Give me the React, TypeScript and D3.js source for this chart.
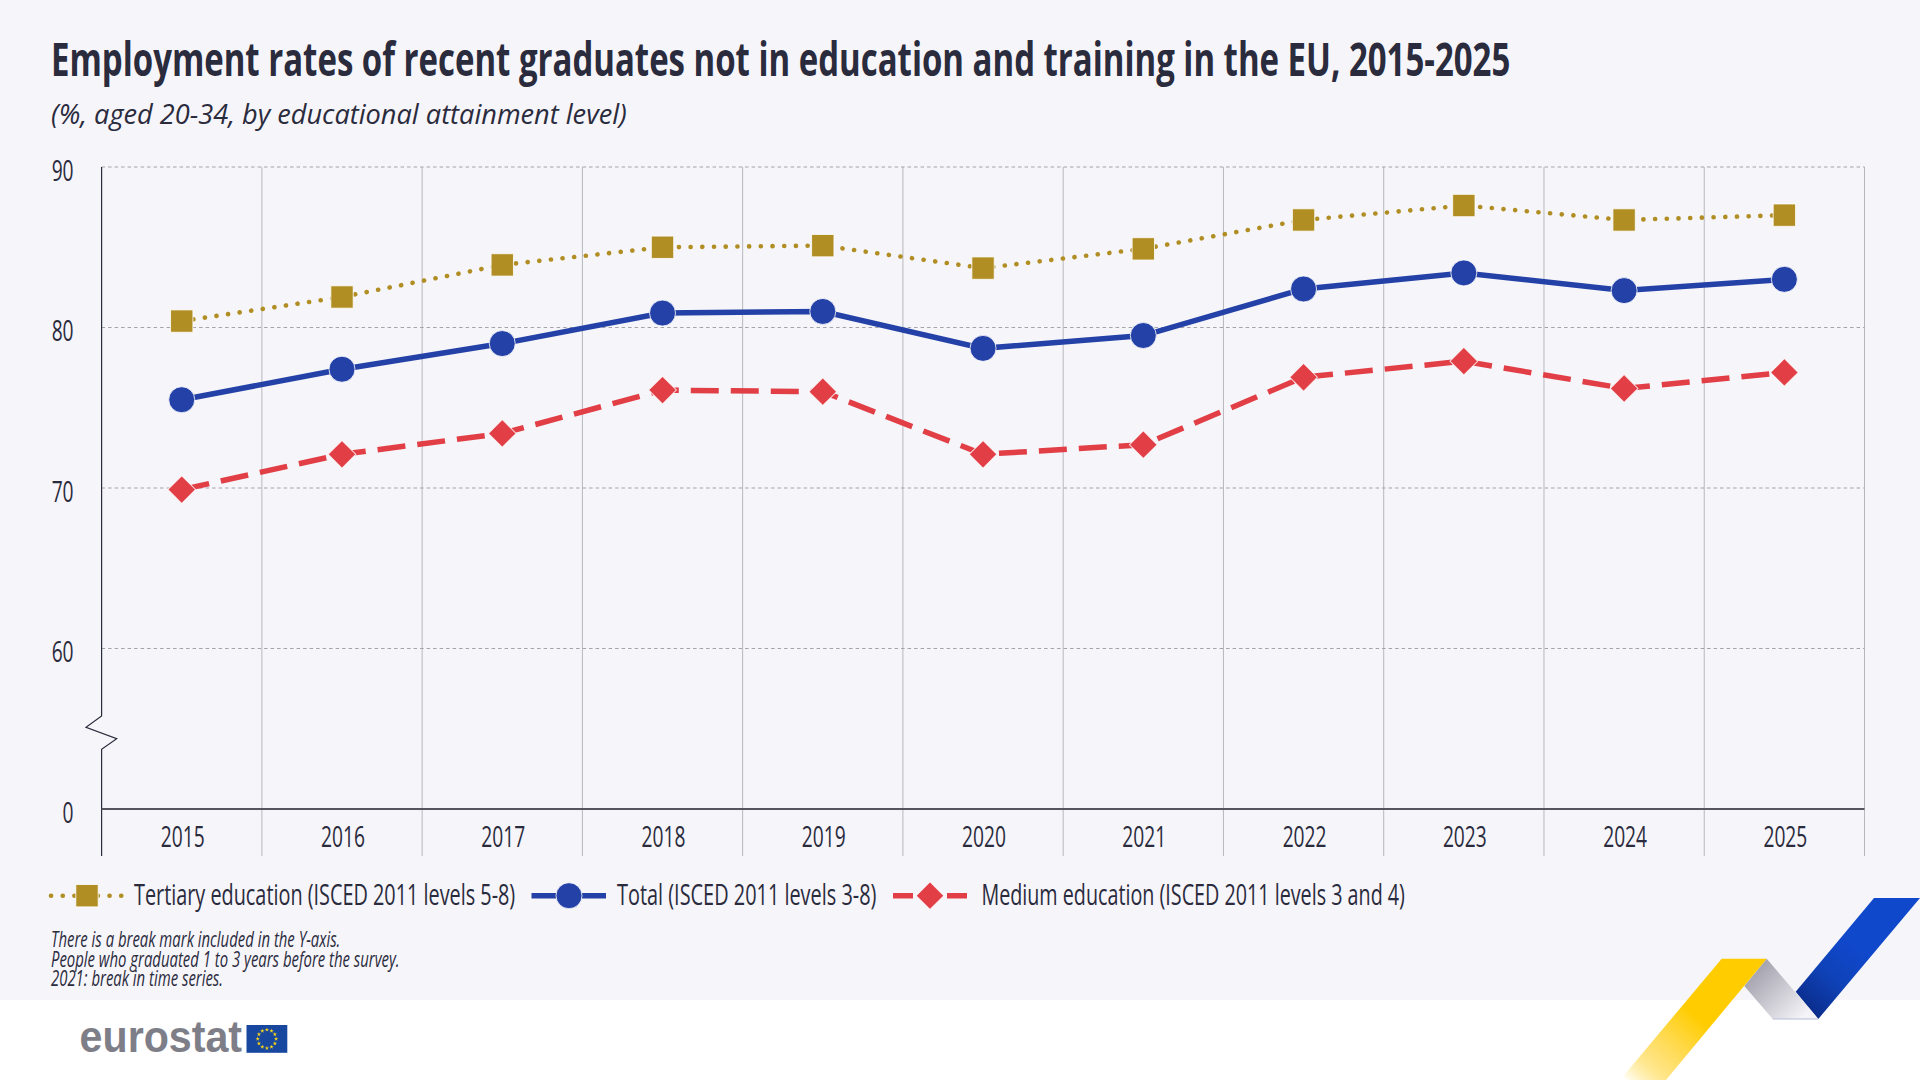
import React, { useEffect, useRef } from "react";
import * as d3 from "d3";

const years = ["2015", "2016", "2017", "2018", "2019", "2020", "2021", "2022", "2023", "2024", "2025"];
const tertiary = [80.4, 81.9, 83.9, 85.0, 85.1, 83.7, 84.9, 86.7, 87.6, 86.7, 87.0];
const total = [75.5, 77.4, 79.0, 80.9, 81.0, 78.7, 79.5, 82.4, 83.4, 82.3, 83.0];
const medium = [69.9, 72.1, 73.4, 76.1, 76.0, 72.1, 72.7, 76.9, 77.9, 76.2, 77.2];
const yTicks = [0, 60, 70, 80, 90];
const notes = [
  "There is a break mark included in the Y-axis.",
  "People who graduated 1 to 3 years before the survey.",
  "2021: break in time series.",
];

const INK = "#2a2b3d";
const FONT = "'Open Sans', 'Noto Sans', sans-serif";

const seriesStyles = [
  { name: "Tertiary education (ISCED 2011 levels 5-8)", values: tertiary, color: "#b08e24", width: 4.6, dash: "0.1 11.6", legendDash: "0.1 11.6", cap: "round", marker: "square" },
  { name: "Total (ISCED 2011 levels 3-8)", values: total, color: "#2441a7", width: 5.5, dash: "none", legendDash: "none", cap: "butt", marker: "circle" },
  { name: "Medium education (ISCED 2011 levels 3 and 4)", values: medium, color: "#e13e46", width: 5.5, dash: "28 12", legendDash: "20 34 20", cap: "butt", marker: "diamond" },
];

const App: React.FC = () => {
  const svgRef = useRef<SVGSVGElement>(null);

  useEffect(() => {
    if (!svgRef.current) return;
    const svg = d3.select(svgRef.current);
    svg.selectAll("*").remove();

    // Plot frame
    const left = 101.6;
    const right = 1864.5;
    const zeroY = 809;
    const bottom = 856;

    const xScale = d3.scaleBand<string>().domain(years).range([left, right]).padding(0);
    // 0 sits below the axis break, so the scale has two pieces
    const yScale = d3.scaleLinear().domain([0, 60, 90]).range([zeroY, 648.5, 167]);
    const cx = (i: number) => (xScale(years[i]) as number) + xScale.bandwidth() / 2;

    // the original font is condensed, so squeeze glyphs horizontally
    const squeezeTick = (sel: any, k: number, x: number, y: number) =>
      sel.attr("x", 0).attr("y", 0).attr("dy", 0)
        .attr("transform", `translate(${x},${y}) scale(${k},1)`);

    const label = (txt: string, x: number, y: number, size: number, w: number, opts: any = {}) => {
      const t = svg.append("text")
        .attr("font-family", opts.family || FONT)
        .attr("font-size", size)
        .attr("font-weight", opts.weight || 400)
        .attr("font-style", opts.italic ? "italic" : "normal")
        .attr("fill", opts.fill || INK)
        .text(txt);
      const len = (t.node() as SVGTextElement).getComputedTextLength();
      t.attr("transform", `translate(${x},${y}) scale(${w / len},1)`);
      return t;
    };

    // Backgrounds
    svg.append("rect").attr("width", 1920).attr("height", 1080).attr("fill", "#ffffff");
    svg.append("rect").attr("width", 1920).attr("height", 1000).attr("fill", "#f6f5f9");

    // Ribbon gradients
    const defs = svg.append("defs");
    const gradient = (id: string, x1: number, y1: number, x2: number, y2: number, stops: [number, string, number?][]) => {
      const g = defs.append("linearGradient")
        .attr("id", id)
        .attr("gradientUnits", "userSpaceOnUse")
        .attr("x1", x1).attr("y1", y1).attr("x2", x2).attr("y2", y2);
      stops.forEach(([o, c, a]) => {
        g.append("stop").attr("offset", o).attr("stop-color", c).attr("stop-opacity", a === undefined ? 1 : a);
      });
    };
    gradient("ribYellow", 1630, 1085, 1695, 1015, [[0, "#ffcc00", 0], [0.4, "#ffdc60", 0.85], [1, "#ffcc00", 1]]);
    gradient("ribGrey", 1745, 965, 1800, 1020, [[0, "#9796a3"], [1, "#f4f3f7"]]);
    gradient("ribBlue", 1860, 950, 1805, 1015, [[0, "#1048cc"], [0.45, "#0f42b8"], [1, "#0a2a86"]]);

    const ribbon = (pts: [number, number][], fill: string) =>
      svg.append("path").attr("d", (d3.line()(pts) as string) + "Z").attr("fill", fill);
    ribbon([[1874, 898], [1920, 898], [1818.3, 1019], [1795.7, 991.7]], "url(#ribBlue)");
    ribbon([[1766.7, 958.7], [1818.3, 1019], [1772.7, 1019], [1744.3, 986]], "url(#ribGrey)");
    ribbon([[1721.7, 958.7], [1766.7, 958.7], [1666, 1080], [1620, 1080]], "url(#ribYellow)");
    svg.append("line").attr("x1", 1772.7).attr("x2", 1818.3).attr("y1", 1019).attr("y2", 1019).attr("stroke", "#b5bdd8").attr("stroke-width", 1);

    // Title block
    label("Employment rates of recent graduates not in education and training in the EU, 2015-2025", 51, 75.5, 46, 1460, { weight: 700 });
    label("(%, aged 20-34, by educational attainment level)", 51, 124, 28, 576, { italic: true });

    // Grid
    const grid = svg.append("g");
    [...years.map(d => xScale(d) as number), right].forEach((x, i) => {
      if (i === 0) return;
      grid.append("line")
        .attr("x1", x).attr("x2", x).attr("y1", 167).attr("y2", bottom)
        .attr("stroke", "#b7b7be").attr("stroke-width", 1);
    });
    yTicks.filter(t => t > 0).forEach(t => {
      grid.append("line")
        .attr("x1", left).attr("x2", right).attr("y1", yScale(t)).attr("y2", yScale(t))
        .attr("stroke", "#a3a3aa").attr("stroke-width", 1).attr("stroke-dasharray", "3.5 3");
    });

    // Y axis with break mark
    svg.append("path")
      .attr("d", d3.line()([[left, 167], [left, 716], [86, 727.3], [116.7, 738.7], [left, 749.3], [left, bottom]]) as string)
      .attr("fill", "none").attr("stroke", INK).attr("stroke-width", 1.2);

    const yAxis = svg.append("g")
      .attr("transform", `translate(${left},0)`)
      .call(d3.axisLeft(yScale).tickValues(yTicks).tickSize(0).tickFormat(d => String(d)));
    yAxis.select(".domain").remove();
    yAxis.selectAll("text")
      .attr("font-family", FONT)
      .attr("font-size", 30)
      .attr("fill", INK)
      .call(squeezeTick, 0.64, -28, 13.2);

    // X axis
    const xAxis = svg.append("g")
      .attr("transform", `translate(1,${zeroY})`)
      .call(d3.axisBottom(xScale).tickSize(0));
    xAxis.select(".domain").remove();
    xAxis.selectAll("text")
      .attr("font-family", FONT)
      .attr("font-size", 30)
      .attr("fill", INK)
      .call(squeezeTick, 0.64, 0, 37.5);

    svg.append("line")
      .attr("x1", left).attr("x2", right).attr("y1", zeroY).attr("y2", zeroY)
      .attr("stroke", "#55555f").attr("stroke-width", 1.8);

    // Marker shapes
    const markerPath = (kind: string) => {
      if (kind === "circle") return d3.symbol(d3.symbolCircle, Math.PI * 13 * 13)() as string;
      if (kind === "diamond") return d3.symbol(d3.symbolSquare, 385)() as string;
      return d3.symbol(d3.symbolSquare, 500)() as string;
    };
    const drawMarker = (g: any, kind: string, color: string, x: number, y: number) => {
      g.append("path")
        .attr("d", markerPath(kind))
        .attr("transform", `translate(${x},${y})${kind === "diamond" ? " rotate(45)" : ""}`)
        .attr("fill", color)
        .attr("stroke", "#ffffff")
        .attr("stroke-width", 1)
        .attr("stroke-opacity", 0.8);
    };

    // Series lines and markers
    const line = d3.line<number>().x((_, i) => cx(i)).y(d => yScale(d));
    seriesStyles.forEach(s => {
      const g = svg.append("g");
      g.append("path")
        .datum(s.values)
        .attr("fill", "none")
        .attr("stroke", s.color)
        .attr("stroke-width", s.width)
        .attr("stroke-dasharray", s.dash)
        .attr("stroke-linecap", s.cap)
        .attr("d", line);
      s.values.forEach((v, i) => drawMarker(g, s.marker, s.color, cx(i), yScale(v)));
    });

    // Legend
    const legendY = 895.7;
    const legendSlots = [
      { x1: 51, x2: 125, mx: 87, tx: 134, tw: 381.5 },
      { x1: 531.5, x2: 606, mx: 569, tx: 617, tw: 259.5 },
      { x1: 893, x2: 967, mx: 930, tx: 981.4, tw: 423.6 },
    ];
    seriesStyles.forEach((s, i) => {
      const slot = legendSlots[i];
      const g = svg.append("g");
      g.append("line")
        .attr("x1", slot.x1).attr("x2", slot.x2).attr("y1", legendY).attr("y2", legendY)
        .attr("stroke", s.color)
        .attr("stroke-width", s.width)
        .attr("stroke-dasharray", s.legendDash)
        .attr("stroke-linecap", s.cap);
      drawMarker(g, s.marker, s.color, slot.mx, legendY);
      label(s.name, slot.tx, 905, 29, slot.tw);
    });

    // Notes, one text block with three lines
    const notesText = svg.append("text")
      .attr("font-family", FONT)
      .attr("font-size", 21)
      .attr("font-style", "italic")
      .attr("fill", INK);
    notes.forEach((n, i) => {
      notesText.append("tspan").attr("x", 0).attr("dy", i === 0 ? 0 : 19.5).text(n);
    });
    const longest = (notesText.select("tspan:nth-child(2)").node() as SVGTextContentElement).getComputedTextLength();
    notesText.attr("transform", `translate(51,947) scale(${349 / longest},1)`);

    // Eurostat logo
    label("eurostat", 79.6, 1052, 44, 162.5, { weight: 700, fill: "#7e7e88", family: "'Liberation Sans', sans-serif" });
    svg.append("rect").attr("x", 246.5).attr("y", 1025).attr("width", 40.8).attr("height", 27.8).attr("fill", "#17479e");
    d3.range(12).forEach(i => {
      const a = (i / 12) * 2 * Math.PI;
      svg.append("path")
        .attr("d", d3.symbol(d3.symbolStar, 6)() as string)
        .attr("transform", `translate(${266.9 + 9.2 * Math.sin(a)},${1038.9 - 9.2 * Math.cos(a)})`)
        .attr("fill", "#f5d21a");
    });
  }, []);

  return (
    <svg
      ref={svgRef}
      width={1920}
      height={1080}
      style={{ position: "absolute", top: 0, left: 0, display: "block" }}
    />
  );
};

export default App;
